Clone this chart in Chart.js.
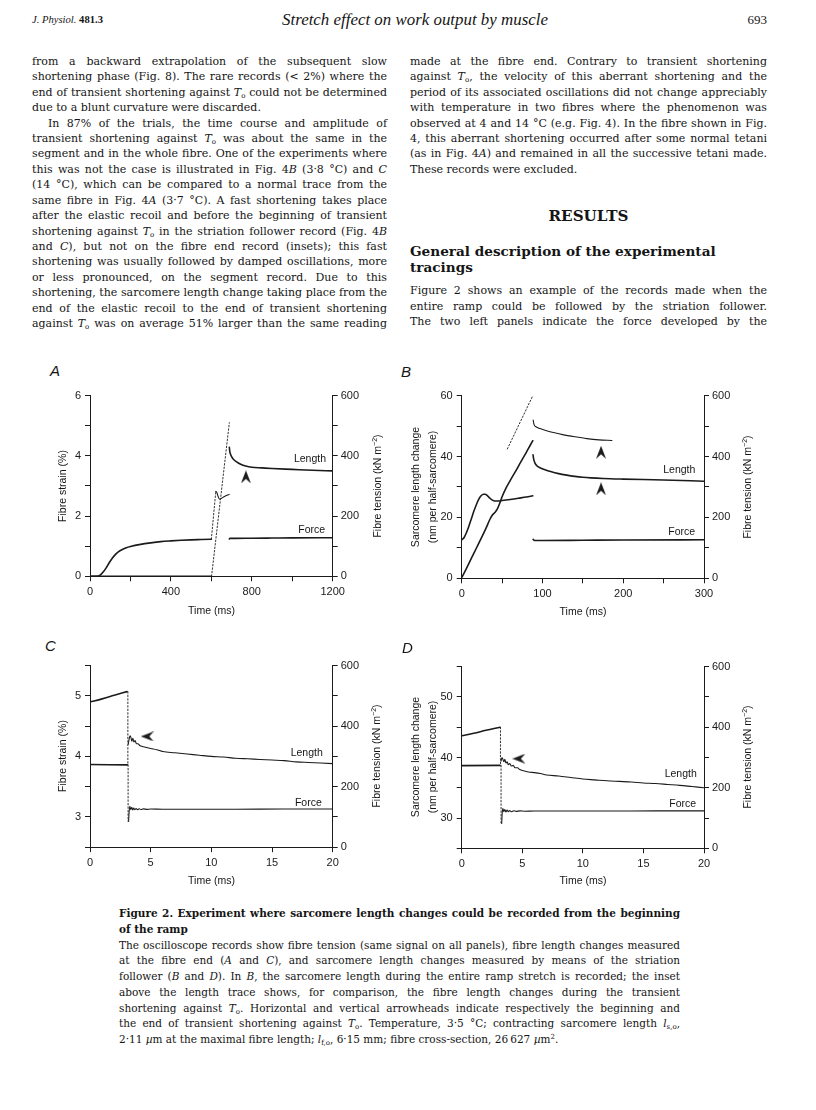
<!DOCTYPE html>
<html><head><meta charset="utf-8">
<script src="https://cdn.jsdelivr.net/npm/chart.js@4.4.1/dist/chart.umd.min.js"></script>
<style>
html,body{margin:0;padding:0;background:#fff;}
#page{position:relative;width:816px;height:1110px;overflow:hidden;background:#fff;}
.t{position:absolute;white-space:nowrap;font-family:'DejaVu Serif',serif;font-size:11px;line-height:14px;color:#151515;}
.t sub{font-size:7px;vertical-align:-2px;line-height:0;}
.t sup{font-size:7px;vertical-align:4px;line-height:0;}
.cap{font-size:10.5px;}
.b{font-weight:bold;}
.hd{font-family:'Liberation Serif',serif;}
canvas{position:absolute;}
.lab{position:absolute;font-family:'Liberation Sans',Arial,sans-serif;font-size:10.5px;color:#151515;white-space:nowrap;transform:translate(-50%,-50%);line-height:12px;}
.lab sup{font-size:7px;vertical-align:4px;line-height:0;}
.rot{transform:translate(-50%,-50%) rotate(-90deg);}
.let{position:absolute;font-family:'Liberation Sans',Arial,sans-serif;font-style:italic;font-size:15px;color:#151515;}
</style></head>
<body><div id="page"></div>
<script>
// ---------------- DATA ----------------
// Panel A (fibre strain %, left; fibre tension kN m-2, right; time ms)
const A_xTicks=[0,200,400,600,800,1000,1200], A_xLabels=[0,400,800,1200];
const A_yTicks=[0,1,2,3,4,5,6], A_yLabels=[0,2,4,6];
const T_y2Ticks=[0,100,200,300,400,500,600], T_y2Labels=[0,200,400,600];
const A_lengthBase=[[0,0],[600,0]];
const A_lengthRamp=[[601,0],[689,5.1]];
const A_lengthAfter=[[689,4.28],[691,4.15],[695,4.05],[700,3.97],[710,3.88],[725,3.8],[745,3.72],[770,3.66],[800,3.62],[850,3.6],[900,3.58],[1000,3.55],[1100,3.52],[1200,3.5]];
const A_forceRise=[[0,0],[35,0],[50,4],[65,14],[80,28],[95,45],[110,60],[125,72],[140,81],[160,89],[180,95],[200,99],[250,106],[300,111],[350,115],[400,117.5],[450,119.5],[500,121],[550,122],[600,123]];
const A_forceRamp=[[600,123],[622,282]];
const A_forceStretch=[[622,282],[627,278],[633,266],[640,256],[650,259],[665,265],[688,272]];
const A_forceAfter=[[689,124],[692,126],[720,126],[800,126.5],[900,127],[1000,127.5],[1200,128]];
const A_arrows=[[771,3.3]];

// Panel B (sarcomere length change nm, left)
const B_xTicks=[0,50,100,150,200,250,300], B_xLabels=[0,100,200,300];
const B_yTicks=[0,10,20,30,40,50,60], B_yLabels=[0,20,40,60];
const B_sarcRamp=[[0,0.2],[5,2.8],[10,5.5],[15,8.2],[20,10.9],[25,13.6],[30,16.4],[35,19.4],[38,20.8],[41,21.6],[44,22.7],[47,24.6],[50,26.8],[55,29.7],[60,32.1],[65,34.4],[70,36.7],[75,39.1],[80,41.4],[85,43.8],[88,45.2]];
const B_sarcAfter=[[88.3,40.6],[89,39.3],[90.5,38.0],[93,37.0],[97,36.3],[103,35.7],[110,35.1],[120,34.4],[130,33.9],[140,33.5],[150,33.2],[160,33.0],[175,32.8],[200,32.6],[250,32.3],[300,31.9]];
const B_insetRamp=[[56.5,42.5],[87.5,59.7]];
const B_insetAfter=[[88.5,52],[89.5,50.6],[92,49.8],[97,49.2],[105,48.5],[115,47.8],[125,47.2],[140,46.5],[155,45.9],[170,45.5],[186,45.3]];
const B_forceRise=[[0,126],[3,134],[6,151],[9,172],[12,196],[15,220],[18,241],[21,259],[24,271],[27,276],[29,276],[32,271],[35,263],[38,257],[41,254],[45,254],[50,255.5],[60,259],[70,263],[80,267],[88,271]];
const B_forceAfter=[[88.5,128],[90,124],[100,124],[150,125],[200,126],[300,126.5]];
const B_arrows=[[172.5,41.4],[172.5,29.4]];

// Panel C (fibre strain %, 0-20 ms)
const CD_xTicks=[0,5,10,15,20], CD_xLabels=[0,5,10,15,20];
const C_yTicks=[2.5,3,3.5,4,4.5,5,5.5], C_yLabels=[3,4,5];
const C_lengthBefore=[[0,4.9],[1,4.95],[2,5.01],[3.05,5.07]];
const C_lengthDrop=[[3.12,5.07],[3.12,3.86]];
const C_lengthAfter=[[3.15,4.2],[3.22,4.28],[3.3,4.34],[3.38,4.31],[3.45,4.25],[3.53,4.3],[3.62,4.24],[3.72,4.26],[3.82,4.21],[3.95,4.21],[4.1,4.18],[4.4,4.16],[5,4.13],[5.5,4.11],[6,4.08],[7,4.06],[8,4.04],[9,4.02],[10,4.0],[11,3.99],[12,3.97],[13,3.96],[14,3.95],[15,3.94],[16,3.93],[17,3.91],[18,3.9],[19,3.89],[20,3.88]];
const C_forceBefore=[[0,273],[3.08,272]];
const C_forceDrop=[[3.14,272],[3.14,85]];
const C_forceAfter=[[3.18,85],[3.22,115],[3.28,135],[3.36,124],[3.44,132],[3.52,123],[3.6,129],[3.7,124],[3.8,128],[3.92,124],[4.05,127],[4.2,124.5],[4.4,126.5],[4.7,125],[5,126],[6,125.5],[8,125.5],[12,125.5],[16,126],[20,126]];
const C_arrows=[[4.72,4.33]];

// Panel D (sarcomere length change nm, 0-20 ms)
const D_yTicks=[25,30,35,40,45,50,55], D_yLabels=[30,40,50];
const D_lengthBefore=[[0,43.6],[1,44.0],[2,44.5],[3.15,45.0]];
const D_lengthDrop=[[3.2,45.0],[3.2,38.6]];
const D_lengthAfter=[[3.25,39.4],[3.32,40.0],[3.4,39.7],[3.48,39.3],[3.56,39.7],[3.65,39.1],[3.75,39.3],[3.85,38.8],[3.97,39.0],[4.1,38.6],[4.25,38.7],[4.4,38.3],[4.6,38.3],[4.8,38.0],[5.1,37.8],[5.5,37.6],[6,37.5],[6.5,37.35],[7,37.1],[8,36.95],[9,36.7],[10,36.45],[11,36.3],[12,36.15],[13,36.05],[14,35.95],[15,35.8],[16,35.7],[17,35.55],[18,35.4],[19,35.2],[20,35.0]];
const D_forceBefore=[[0,273],[3.15,274]];
const D_forceDrop=[[3.25,274],[3.25,80]];
const D_forceAfter=[[3.3,82],[3.34,115],[3.4,131],[3.48,121],[3.56,128],[3.65,120],[3.75,126],[3.85,121],[3.95,125],[4.1,121],[4.3,124],[4.5,122],[4.8,123.5],[5.2,122.5],[6,123],[8,123],[12,123],[16,123.5],[20,123.5]];
const D_arrows=[[4.72,39.8]];

// ---------------- TEXT ----------------
const To='<i>T</i><sub>o</sub>';
const leftLines=[
 ['from a backward extrapolation of the subsequent slow',1],
 ['shortening phase (Fig. 8). The rare records (&lt; 2%) where the',1],
 ['end of transient shortening against '+To+' could not be determined',1],
 ['due to a blunt curvature were discarded.',0],
 ['In 87% of the trials, the time course and amplitude of',2],
 ['transient shortening against '+To+' was about the same in the',1],
 ['segment and in the whole fibre. One of the experiments where',1],
 ['this was not the case is illustrated in Fig. 4<i>B</i> (3·8 °C) and <i>C</i>',1],
 ['(14 °C), which can be compared to a normal trace from the',1],
 ['same fibre in Fig. 4<i>A</i> (3·7 °C). A fast shortening takes place',1],
 ['after the elastic recoil and before the beginning of transient',1],
 ['shortening against '+To+' in the striation follower record (Fig. 4<i>B</i>',1],
 ['and <i>C</i>), but not on the fibre end record (insets); this fast',1],
 ['shortening was usually followed by damped oscillations, more',1],
 ['or less pronounced, on the segment record. Due to this',1],
 ['shortening, the sarcomere length change taking place from the',1],
 ['end of the elastic recoil to the end of transient shortening',1],
 ['against '+To+' was on average 51% larger than the same reading',1]
];
const rightLines=[
 ['made at the fibre end. Contrary to transient shortening',1],
 ['against '+To+', the velocity of this aberrant shortening and the',1],
 ['period of its associated oscillations did not change appreciably',1],
 ['with temperature in two fibres where the phenomenon was',1],
 ['observed at 4 and 14 °C (e.g. Fig. 4). In the fibre shown in Fig.',1],
 ['4, this aberrant shortening occurred after some normal tetani',1],
 ['(as in Fig. 4<i>A</i>) and remained in all the successive tetani made.',1],
 ['These records were excluded.',0]
];
const rightPara=[
 'Figure 2 shows an example of the records made when the',
 'entire ramp could be followed by the striation follower.',
 'The two left panels indicate the force developed by the'
];
const captionLines=[
 ['Figure 2. Experiment where sarcomere length changes could be recorded from the beginning',1,1],
 ['of the ramp',0,1],
 ['The oscilloscope records show fibre tension (same signal on all panels), fibre length changes measured',1,0],
 ['at the fibre end (<i>A</i> and <i>C</i>), and sarcomere length changes measured by means of the striation',1,0],
 ['follower (<i>B</i> and <i>D</i>). In <i>B</i>, the sarcomere length during the entire ramp stretch is recorded; the inset',1,0],
 ['above the length trace shows, for comparison, the fibre length changes during the transient',1,0],
 ['shortening against '+To+'. Horizontal and vertical arrowheads indicate respectively the beginning and',1,0],
 ['the end of transient shortening against '+To+'. Temperature, 3·5 °C; contracting sarcomere length <i>l</i><sub>s,o</sub>,',1,0],
 ['2·11 <i>µ</i>m at the maximal fibre length; <i>l</i><sub>f,o</sub>, 6·15 mm; fibre cross-section, 26\u2009627 <i>µ</i>m<sup>2</sup>.',0,0]
];

// ---------------- TEXT LAYOUT ----------------
const page=document.getElementById('page');
function addText(html,x,cy,o){
  o=o||{};
  const d=document.createElement('div');
  d.className='t '+(o.cls||'');
  d.innerHTML=html;
  if(o.size) d.style.fontSize=o.size+'px';
  page.appendChild(d);
  if(o.fitW){
    const w0=d.getBoundingClientRect().width;
    const fs=parseFloat(getComputedStyle(d).fontSize);
    d.style.fontSize=(fs*o.fitW/w0)+'px';
  }
  if(o.w){
    const r=d.getBoundingClientRect().width;
    const n=(d.textContent.match(/ /g)||[]).length;
    if(n) d.style.wordSpacing=((o.w-r)/n)+'px';
  }
  const bw=d.getBoundingClientRect().width;
  let left=x;
  if(o.center) left=x-bw/2;
  if(o.right) left=x-bw;
  d.style.left=left+'px';
  d.style.top=(cy-(o.off!==undefined?o.off:8))+'px';
  return d;
}
// header
addText('<i>J. Physiol.</i> <b>481.3</b>',32,21,{cls:'hd',size:11,fitW:71});
addText('<i>Stretch effect on work output by muscle</i>',415,21,{cls:'hd',size:15,fitW:266,center:1});
addText('693',767,21,{cls:'hd',size:13,right:1});
// columns
const LH=15.41;
leftLines.forEach((l,i)=>{
  const cy=63+i*LH;
  if(l[1]===2) addText(l[0],48,cy,{w:339});
  else if(l[1]===1) addText(l[0],32,cy,{w:355});
  else addText(l[0],32,cy,{});
});
rightLines.forEach((l,i)=>{
  const cy=63+i*LH;
  if(l[1]) addText(l[0],410,cy,{w:357}); else addText(l[0],410,cy,{});
});
addText('RESULTS',588.5,216.7,{cls:'b',size:14,fitW:80,center:1});
const h1=addText('General description of the experimental',410,251.7,{cls:'b',size:14,fitW:306});
addText('tracings',410,268,{cls:'b',size:parseFloat(h1.style.fontSize)});
rightPara.forEach((l,i)=>addText(l,410,292+i*15.5,{w:357}));
captionLines.forEach((l,i)=>{
  const cy=914+i*15.75;
  const cls='cap'+(l[2]?' b':'');
  if(l[1]) addText(l[0],119,cy,{cls,w:561}); else addText(l[0],119,cy,{cls});
});

// ---------------- CHARTS ----------------
const INK='#1b1b1b';
const TICKFONT={family:"'Liberation Sans', Arial, sans-serif",size:11};
const ARROW=(()=>{const c=document.createElement('canvas');c.width=10;c.height=13;const g=c.getContext('2d');
  g.fillStyle=INK;g.beginPath();g.moveTo(5,0);g.lineTo(10,13);g.lineTo(5,8.5);g.lineTo(0,13);g.closePath();g.fill();return c;})();
function xy(a){return a.map(p=>({x:p[0],y:p[1]}));}
function trace(a,axis,kind){
  const ds={data:xy(a),yAxisID:axis,borderColor:INK,pointRadius:0,fill:false,borderWidth:1.6,
    cubicInterpolationMode:'monotone',borderCapStyle:'round',borderJoinStyle:'round'};
  if(kind==='dot') Object.assign(ds,{borderWidth:1,borderDash:[1.5,2],borderColor:'#333',cubicInterpolationMode:'default',tension:0});
  if(kind==='thin') Object.assign(ds,{borderWidth:1.1});
  return ds;
}
function arrows(a,axis,rot){return {data:xy(a),yAxisID:axis,showLine:false,pointRadius:5,pointStyle:ARROW,pointRotation:rot};}
function scale(pos,min,max,ticks,labels,fit){
  return {type:'linear',position:pos,min,max,
    afterBuildTicks:s=>{s.ticks=ticks.map(v=>({value:v}));},
    afterFit:fit,
    ticks:{autoSkip:false,maxRotation:0,minRotation:0,padding:pos==='right'?3:4,color:INK,font:TICKFONT,
      callback:v=>labels.some(l=>Math.abs(l-v)<1e-9)?String(v):''},
    grid:{display:true,drawOnChartArea:false,drawTicks:true,tickLength:5,color:INK,lineWidth:1},
    border:{display:true,color:INK,width:1}};
}
function makePanel(box,area,xs,ys,y2s,datasets){
  const cv=document.createElement('canvas');
  cv.width=box.w;cv.height=box.h;
  cv.style.left=box.x+'px';cv.style.top=box.y+'px';cv.style.width=box.w+'px';cv.style.height=box.h+'px';
  page.appendChild(cv);
  new Chart(cv,{type:'line',data:{datasets},options:{
    responsive:false,maintainAspectRatio:false,animation:false,devicePixelRatio:1,events:[],
    plugins:{legend:{display:false},tooltip:{enabled:false}},
    layout:{padding:{top:area.t-box.y,bottom:0,left:0,right:0}},
    scales:{
      x:scale('bottom',xs[0],xs[1],xs[2],xs[3],s=>{s.height=box.y+box.h-area.b;}),
      y:scale('left',ys[0],ys[1],ys[2],ys[3],s=>{s.width=area.l-box.x;}),
      y2:scale('right',y2s[0],y2s[1],y2s[2],y2s[3],s=>{s.width=box.x+box.w-area.r;})
    }}});
}
const Y2=[0,600,T_y2Ticks,T_y2Labels];
makePanel({x:20,y:385,w:370,h:227},{l:90,t:395.3,r:332.7,b:576.3},
  [0,1200,A_xTicks,A_xLabels],[0,6,A_yTicks,A_yLabels],Y2,[
  trace(A_lengthBase,'y'),trace(A_lengthRamp,'y','dot'),trace(A_lengthAfter,'y'),
  trace(A_forceRise,'y2'),trace(A_forceRamp,'y2','dot'),trace(A_forceStretch,'y2','thin'),trace(A_forceAfter,'y2'),
  arrows(A_arrows,'y',0)]);
makePanel({x:400,y:385,w:390,h:227},{l:461.7,t:395.7,r:704,b:578.3},
  [0,300,B_xTicks,B_xLabels],[0,60,B_yTicks,B_yLabels],Y2,[
  trace(B_sarcRamp,'y'),trace(B_sarcAfter,'y'),trace(B_insetRamp,'y','dot'),trace(B_insetAfter,'y','thin'),
  trace(B_forceRise,'y2'),trace(B_forceAfter,'y2'),arrows(B_arrows,'y',0)]);
makePanel({x:20,y:655,w:370,h:227},{l:90,t:665.3,r:332.7,b:847.2},
  [0,20,CD_xTicks,CD_xLabels],[2.5,5.5,C_yTicks,C_yLabels],Y2,[
  trace(C_lengthBefore,'y'),trace(C_lengthDrop,'y','dot'),trace(C_lengthAfter,'y','thin'),
  trace(C_forceBefore,'y2'),trace(C_forceDrop,'y2','dot'),trace(C_forceAfter,'y2','thin'),arrows(C_arrows,'y',-90)]);
makePanel({x:400,y:655,w:390,h:227},{l:461.7,t:666.7,r:704,b:848.3},
  [0,20,CD_xTicks,CD_xLabels],[25,55,D_yTicks,D_yLabels],Y2,[
  trace(D_lengthBefore,'y'),trace(D_lengthDrop,'y','dot'),trace(D_lengthAfter,'y','thin'),
  trace(D_forceBefore,'y2'),trace(D_forceDrop,'y2','dot'),trace(D_forceAfter,'y2','thin'),arrows(D_arrows,'y',-90)]);

// ---------------- CHART LABELS (HTML text) ----------------
function lab(html,x,y,rot){const d=document.createElement('div');d.className='lab'+(rot?' rot':'');d.innerHTML=html;
  d.style.left=x+'px';d.style.top=y+'px';page.appendChild(d);}
function letter(t,x,y){const d=document.createElement('div');d.className='let';d.textContent=t;d.style.left=x+'px';d.style.top=y+'px';page.appendChild(d);}
const TEN='Fibre tension (kN m<sup>\u22122</sup>)';
letter('A',50,362);letter('B',401,363);letter('C',45,637);letter('D',402,639);
// A
lab('Fibre strain (%)',62,486,1);lab(TEN,377,486,1);lab('Time (ms)',211.5,610);
lab('Length',310,457.7);lab('Force',311.7,529.3);
// B
lab('Sarcomere length change',415,487,1);lab('(nm per half-sarcomere)',431.5,487,1);lab(TEN,747,487,1);lab('Time (ms)',583,611);
lab('Length',679.3,469);lab('Force',681.7,531);
// C
lab('Fibre strain (%)',62,756,1);lab(TEN,376,756,1);lab('Time (ms)',211.5,880);
lab('Length',306.7,751.7);lab('Force',308.3,801.7);
// D
lab('Sarcomere length change',415,757,1);lab('(nm per half-sarcomere)',431.5,757,1);lab(TEN,747,757,1);lab('Time (ms)',583,880);
lab('Length',680.7,772.7);lab('Force',682.7,802.7);
</script>
</body></html>
